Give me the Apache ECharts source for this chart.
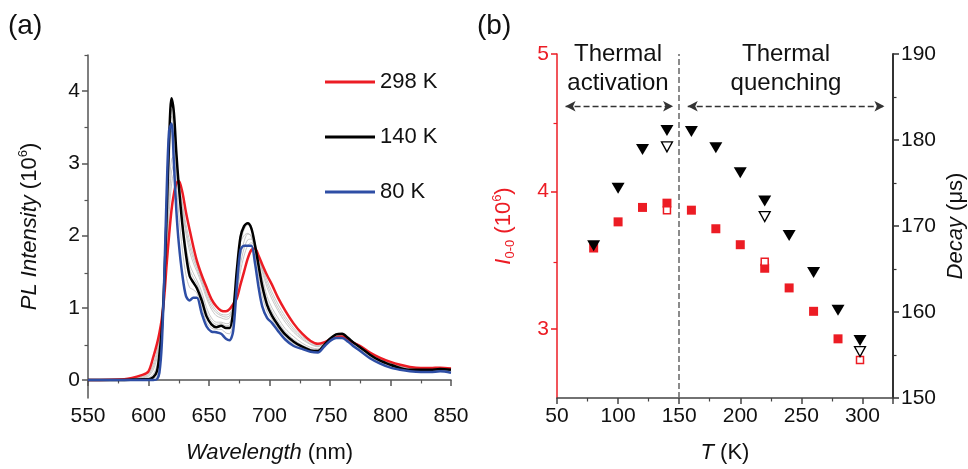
<!DOCTYPE html>
<html>
<head>
<meta charset="utf-8">
<script src="https://cdn.jsdelivr.net/npm/echarts@6/dist/echarts.min.js"></script>
<style>
  html, body { margin: 0; padding: 0; background: #fff; }
  #main { width: 968px; height: 469px; }
</style>
</head>
<body>
<div id="main"></div>
<script>
// (a) PL spectra, intensity in 10^6
var wavelength = [550, 580, 595, 600, 604, 607, 609, 611, 613, 615, 617, 619, 621, 623, 625, 628, 631, 634, 637, 640,
                  644, 648, 652, 656, 660, 664, 667, 670, 673, 676, 679, 682, 685, 688, 691, 694, 698, 702, 707, 713,
                  720, 727, 734, 740, 745, 750, 755, 760, 765, 770, 775, 783, 791, 800, 808, 816, 825, 833, 841, 850];
var pl298 = [0, 0.01, 0.07, 0.12, 0.32, 0.5, 0.65, 0.85, 1.15, 1.6, 2.0, 2.35, 2.58, 2.72, 2.76, 2.6, 2.32, 2.08, 1.85, 1.65,
             1.45, 1.28, 1.12, 1.02, 0.96, 0.95, 0.98, 1.05, 1.13, 1.32, 1.5, 1.68, 1.8, 1.82, 1.72, 1.6, 1.45, 1.32, 1.14, 0.96,
             0.78, 0.64, 0.54, 0.5, 0.52, 0.56, 0.59, 0.6, 0.56, 0.51, 0.47, 0.38, 0.31, 0.25, 0.21, 0.18, 0.165, 0.165, 0.17, 0.16];
var pl140 = [0, 0, 0.01, 0.01, 0.04, 0.12, 0.35, 0.7, 1.35, 2.3, 3.3, 3.9, 3.7, 3.15, 2.7, 2.15, 1.73, 1.44, 1.35, 1.27,
             1.1, 0.88, 0.77, 0.73, 0.75, 0.72, 0.72, 0.95, 1.52, 1.98, 2.13, 2.17, 2.1, 1.87, 1.58, 1.3, 1.04, 0.89, 0.76, 0.63,
             0.53, 0.46, 0.41, 0.4, 0.48, 0.57, 0.63, 0.64, 0.58, 0.51, 0.45, 0.35, 0.27, 0.21, 0.165, 0.14, 0.14, 0.14, 0.15, 0.14];
var pl80 = [0, 0, 0, 0, 0, 0.01, 0.1, 0.5, 1.4, 2.6, 3.45, 3.55, 3.0, 2.35, 1.9, 1.45, 1.16, 1.1, 1.14, 1.14,
            0.92, 0.74, 0.67, 0.66, 0.64, 0.57, 0.55, 0.68, 1.3, 1.8, 1.86, 1.86, 1.86, 1.62, 1.28, 1.02, 0.86, 0.79, 0.68, 0.56,
            0.47, 0.43, 0.39, 0.38, 0.46, 0.54, 0.58, 0.58, 0.53, 0.46, 0.4, 0.3, 0.23, 0.17, 0.14, 0.12, 0.11, 0.11, 0.12, 0.1];
// thin grey curves for the other temperatures
var plGrey1 = [0, 0, 0, 0.005, 0.02, 0.06, 0.2, 0.6, 1.38, 2.45, 3.38, 3.75, 3.35, 2.75, 2.3, 1.8, 1.45, 1.28, 1.25, 1.2,
               1.0, 0.8, 0.72, 0.7, 0.7, 0.65, 0.64, 0.82, 1.42, 1.9, 2.0, 2.03, 1.98, 1.75, 1.43, 1.16, 0.95, 0.84, 0.72, 0.6,
               0.5, 0.45, 0.4, 0.39, 0.47, 0.55, 0.6, 0.61, 0.55, 0.48, 0.42, 0.32, 0.25, 0.19, 0.15, 0.13, 0.125, 0.125, 0.135, 0.12];
var plGrey2 = [0, 0, 0.015, 0.02, 0.06, 0.16, 0.38, 0.72, 1.32, 2.2, 3.1, 3.65, 3.55, 3.08, 2.68, 2.18, 1.8, 1.53, 1.42, 1.33,
               1.16, 0.94, 0.82, 0.77, 0.78, 0.75, 0.76, 0.96, 1.48, 1.94, 2.1, 2.16, 2.09, 1.88, 1.62, 1.36, 1.1, 0.95, 0.81, 0.67,
               0.56, 0.48, 0.43, 0.42, 0.48, 0.57, 0.62, 0.63, 0.58, 0.51, 0.45, 0.35, 0.27, 0.21, 0.17, 0.15, 0.145, 0.145, 0.15, 0.145];
var plGrey3 = [0, 0, 0.02, 0.03, 0.08, 0.2, 0.42, 0.75, 1.3, 2.1, 2.95, 3.45, 3.4, 3.0, 2.65, 2.2, 1.85, 1.6, 1.48, 1.38,
               1.22, 1.0, 0.86, 0.8, 0.8, 0.78, 0.79, 0.97, 1.45, 1.9, 2.08, 2.15, 2.08, 1.9, 1.66, 1.42, 1.16, 1.0, 0.86, 0.71,
               0.6, 0.51, 0.45, 0.43, 0.49, 0.57, 0.62, 0.63, 0.58, 0.52, 0.46, 0.36, 0.28, 0.22, 0.18, 0.155, 0.15, 0.15, 0.155, 0.15];
var plGrey4 = [0, 0.005, 0.03, 0.05, 0.14, 0.3, 0.5, 0.8, 1.25, 1.95, 2.65, 3.05, 3.1, 2.9, 2.7, 2.35, 2.02, 1.78, 1.62, 1.5,
               1.33, 1.13, 0.98, 0.89, 0.86, 0.84, 0.86, 1.0, 1.3, 1.7, 1.92, 2.02, 2.0, 1.87, 1.7, 1.5, 1.28, 1.12, 0.96, 0.8,
               0.66, 0.56, 0.49, 0.46, 0.5, 0.57, 0.61, 0.62, 0.58, 0.52, 0.47, 0.37, 0.29, 0.23, 0.19, 0.165, 0.155, 0.155, 0.16, 0.155];
var plGrey5 = [0, 0.006, 0.04, 0.065, 0.18, 0.35, 0.54, 0.81, 1.22, 1.85, 2.48, 2.88, 2.98, 2.85, 2.7, 2.4, 2.08, 1.85, 1.68, 1.54,
               1.37, 1.17, 1.02, 0.93, 0.89, 0.87, 0.89, 1.01, 1.25, 1.6, 1.82, 1.94, 1.95, 1.86, 1.71, 1.53, 1.33, 1.17, 1.0, 0.84,
               0.69, 0.58, 0.5, 0.47, 0.5, 0.56, 0.6, 0.61, 0.57, 0.52, 0.47, 0.37, 0.29, 0.23, 0.19, 0.165, 0.155, 0.155, 0.16, 0.155];
var plGrey6 = [0, 0.008, 0.05, 0.08, 0.22, 0.4, 0.58, 0.82, 1.2, 1.75, 2.3, 2.7, 2.85, 2.8, 2.7, 2.45, 2.15, 1.92, 1.73, 1.58,
               1.4, 1.21, 1.06, 0.96, 0.91, 0.9, 0.92, 1.02, 1.2, 1.5, 1.72, 1.86, 1.9, 1.84, 1.72, 1.56, 1.38, 1.22, 1.05, 0.88,
               0.72, 0.6, 0.52, 0.48, 0.51, 0.56, 0.6, 0.61, 0.57, 0.52, 0.47, 0.38, 0.3, 0.24, 0.2, 0.17, 0.16, 0.16, 0.165, 0.16];
var plTicks = [0, 1, 2, 3, 4];
var plMinorTicks = [0.5, 1.5, 2.5, 3.5, 4.5];

// (b) I0-0 (10^6) and decay (us) vs T
var tempFilled = [80, 100, 120, 140, 160, 180, 200, 220, 240, 260, 280];
var i00Filled = [3.59, 3.78, 3.885, 3.916, 3.865, 3.73, 3.614, 3.443, 3.3, 3.13, 2.93];
var tempOpen = [140, 220, 298];
var i00Open = [3.865, 3.49, 2.777];
var tempDecay = [80, 100, 120, 140, 160, 180, 200, 220, 240, 260, 280, 298];
var decayFilled = [167.7, 174.4, 178.9, 181.1, 181.0, 179.1, 176.2, 172.9, 168.9, 164.6, 160.2, 156.7];
var decayOpen = [179.2, 171.1, 155.4];
var i00Ticks = [3, 4, 5];
var i00MinorTicks = [3.5, 4.5];

var RED = '#ec1c24';
var BLUE = '#2e4ea5';
var FONT = 'Liberation Sans';

function pairs(xs, ys) {
    return xs.map(function (x, i) { return [x, ys[i]]; });
}

var myChart = echarts.init(document.getElementById('main'));

var greyStyle = {color: '#b8b8b8', width: 0.8};
function greyLine(arr) {
    return {
        type: 'line', xAxisIndex: 0, yAxisIndex: 0, data: pairs(wavelength, arr),
        showSymbol: false, smooth: 0.3, lineStyle: greyStyle, silent: true, z: 1
    };
}

var gridA = {left: 88, top: 55, width: 363, height: 345};
var gridB = {left: 557, top: 54, width: 336, height: 347};

option = {
    animation: false,
    backgroundColor: '#fff',
    textStyle: {fontFamily: FONT},
    // grids 2 and 3 sit on top of 0 and 1 and only carry the short minor ticks
    grid: [gridA, gridB, gridA, gridB],
    legend: {
        data: ['298 K', '140 K', '80 K'],
        orient: 'vertical',
        left: 325, top: 71, padding: 0,
        icon: 'rect', itemWidth: 50, itemHeight: 3, itemGap: 33,
        textStyle: {fontSize: 22, color: '#111', fontFamily: FONT}
    },
    xAxis: [
        {
            type: 'value', gridIndex: 0, min: 550, max: 850, interval: 50,
            name: '{i|Wavelength} (nm)', nameLocation: 'middle', nameGap: 44,
            nameTextStyle: {fontSize: 22, color: '#111', rich: {i: {fontSize: 22, fontStyle: 'italic', color: '#111'}}},
            axisLine: {lineStyle: {color: '#555', width: 1.5}},
            axisTick: {length: 6, lineStyle: {color: '#555', width: 1.5}},
            minorTick: {show: true, splitNumber: 2, length: 3.5, lineStyle: {color: '#555', width: 1.2}},
            axisLabel: {fontSize: 21, color: '#111', margin: 8},
            splitLine: {show: false}
        },
        {
            type: 'value', gridIndex: 1, min: 50, max: 325, interval: 50,
            name: '{i|T} (K)', nameLocation: 'middle', nameGap: 44,
            nameTextStyle: {fontSize: 22, color: '#111', rich: {i: {fontSize: 22, fontStyle: 'italic', color: '#111'}}},
            axisLine: {lineStyle: {color: '#444', width: 1.5}},
            axisTick: {length: 6, lineStyle: {color: '#444', width: 1.5}},
            minorTick: {show: true, splitNumber: 2, length: 3.5, lineStyle: {color: '#444', width: 1.2}},
            axisLabel: {fontSize: 21, color: '#111', margin: 8, showMaxLabel: false},
            splitLine: {show: false}
        },
        {type: 'value', gridIndex: 2, min: 550, max: 850, show: false},
        {type: 'value', gridIndex: 3, min: 50, max: 325, show: false}
    ],
    yAxis: [
        {
            type: 'value', gridIndex: 0, min: -0.25, max: 4.5,
            name: '{i|PL Intensity} (10{s|6})', nameLocation: 'middle', nameGap: 45, nameRotate: 90,
            nameTextStyle: {fontSize: 22, color: '#111', lineHeight: 26,
                rich: {i: {fontSize: 22, fontStyle: 'italic', color: '#111'},
                       s: {fontSize: 13, verticalAlign: 'top', color: '#111'}}},
            axisLine: {lineStyle: {color: '#555', width: 1.5}},
            axisTick: {length: 6, customValues: plTicks, lineStyle: {color: '#555', width: 1.5}},
            axisLabel: {fontSize: 21, color: '#111', margin: 8, customValues: plTicks},
            splitLine: {show: false}
        },
        {
            type: 'value', gridIndex: 2, min: -0.25, max: 4.5, position: 'left',
            axisLine: {show: false},
            axisTick: {length: 3.5, customValues: plMinorTicks, lineStyle: {color: '#555', width: 1.2}},
            axisLabel: {show: false},
            splitLine: {show: false}
        },
        {
            type: 'value', gridIndex: 1, min: 2.5, max: 5, position: 'left',
            name: '{i|I}{s|0-0} (10{p|6})', nameLocation: 'middle', nameGap: 40, nameRotate: 90,
            nameTextStyle: {fontSize: 22, color: RED, lineHeight: 26,
                rich: {i: {fontSize: 22, fontStyle: 'italic', color: RED},
                       s: {fontSize: 13, verticalAlign: 'bottom', color: RED},
                       p: {fontSize: 13, verticalAlign: 'top', color: RED}}},
            axisLine: {lineStyle: {color: RED, width: 1.5}},
            axisTick: {length: 6, customValues: i00Ticks, lineStyle: {color: RED, width: 1.5}},
            axisLabel: {fontSize: 21, color: RED, margin: 8, customValues: i00Ticks},
            splitLine: {show: false}
        },
        {
            type: 'value', gridIndex: 3, min: 2.5, max: 5, position: 'left',
            axisLine: {show: false},
            axisTick: {length: 3.5, customValues: i00MinorTicks, lineStyle: {color: RED, width: 1.2}},
            axisLabel: {show: false},
            splitLine: {show: false}
        },
        {
            type: 'value', gridIndex: 1, min: 150, max: 190, interval: 10, position: 'right',
            name: '{i|Decay} (μs)', nameLocation: 'middle', nameGap: 52, nameRotate: 90,
            nameTextStyle: {fontSize: 22, color: '#111', rich: {i: {fontSize: 22, fontStyle: 'italic', color: '#111'}}},
            axisLine: {lineStyle: {color: '#333', width: 2}},
            axisTick: {length: 6, lineStyle: {color: '#333', width: 1.5}},
            minorTick: {show: true, splitNumber: 2, length: 3.5, lineStyle: {color: '#333', width: 1.2}},
            axisLabel: {fontSize: 21, color: '#111', margin: 8},
            splitLine: {show: false}
        }
    ],
    graphic: [
        {type: 'text', left: 8, top: 12, style: {text: '(a)', fontSize: 28, fill: '#111', fontFamily: FONT}},
        {type: 'text', left: 477, top: 12, style: {text: '(b)', fontSize: 28, fill: '#111', fontFamily: FONT}},
        {type: 'text', x: 618, y: 40, style: {text: 'Thermal\nactivation', fontSize: 24, lineHeight: 29, align: 'center', fill: '#111', fontFamily: FONT}},
        {type: 'text', x: 786, y: 40, style: {text: 'Thermal\nquenching', fontSize: 24, lineHeight: 29, align: 'center', fill: '#111', fontFamily: FONT}}
    ],
    series: [
        greyLine(plGrey1), greyLine(plGrey2), greyLine(plGrey3), greyLine(plGrey4), greyLine(plGrey5), greyLine(plGrey6),
        {
            name: '298 K', type: 'line', xAxisIndex: 0, yAxisIndex: 0, data: pairs(wavelength, pl298),
            showSymbol: false, smooth: 0.3, color: RED, lineStyle: {color: RED, width: 2.5}, z: 3
        },
        {
            name: '140 K', type: 'line', xAxisIndex: 0, yAxisIndex: 0, data: pairs(wavelength, pl140),
            showSymbol: false, smooth: 0.3, color: '#000', lineStyle: {color: '#000', width: 2.5}, z: 4
        },
        {
            name: '80 K', type: 'line', xAxisIndex: 0, yAxisIndex: 0, data: pairs(wavelength, pl80),
            showSymbol: false, smooth: 0.3, color: BLUE, lineStyle: {color: BLUE, width: 2.5}, z: 5
        },
        {
            type: 'scatter', xAxisIndex: 1, yAxisIndex: 2, data: pairs(tempFilled, i00Filled),
            symbol: 'rect', symbolSize: 9, itemStyle: {color: RED, opacity: 1},
            markLine: {
                silent: true, label: {show: false},
                symbol: ['arrow', 'arrow'], symbolSize: [8, 10],
                lineStyle: {color: '#333', type: [6, 3], width: 1.3},
                data: [
                    [{coord: [57, 4.62]}, {coord: [145, 4.62]}],
                    [{coord: [157, 4.62]}, {coord: [318, 4.62]}]
                ]
            }
        },
        {
            type: 'scatter', xAxisIndex: 1, yAxisIndex: 4, data: pairs(tempDecay, decayFilled),
            symbol: 'triangle', symbolRotate: 180, symbolSize: [13, 11], itemStyle: {color: '#000', opacity: 1},
            markLine: {
                silent: true, label: {show: false},
                symbol: ['none', 'none'],
                lineStyle: {color: '#666', type: [6, 3], width: 1.5},
                data: [{xAxis: 150}]
            }
        },
        {
            type: 'scatter', xAxisIndex: 1, yAxisIndex: 2, data: pairs(tempOpen, i00Open),
            symbol: 'rect', symbolSize: 7, itemStyle: {color: '#fff', borderColor: RED, borderWidth: 1.5, opacity: 1}, z: 4
        },
        {
            type: 'scatter', xAxisIndex: 1, yAxisIndex: 4, data: pairs(tempOpen, decayOpen),
            symbol: 'triangle', symbolRotate: 180, symbolSize: [11, 10], itemStyle: {color: '#fff', borderColor: '#000', borderWidth: 1.3, opacity: 1}, z: 4
        }
    ]
};

if (option && typeof option === "object") {
    myChart.setOption(option, true);
}
</script>
</body>
</html>
